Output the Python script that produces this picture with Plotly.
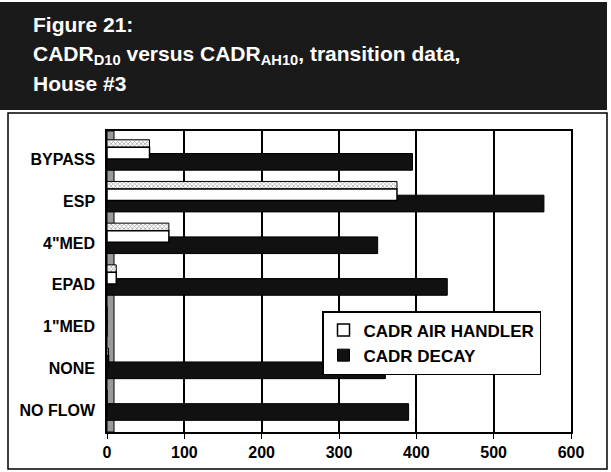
import plotly.graph_objects as go

categories = ["BYPASS", "ESP", "4\"MED", "EPAD", "1\"MED", "NONE", "NO FLOW"]
cadr_air_handler = [55, 375, 80, 12, 0, 2, 0]
cadr_decay = [395, 565, 350, 440, 0, 360, 390]
x_ticks = [0, 100, 200, 300, 400, 500, 600]

W, H = 611, 472
ML, MR, MT, MB = 107, 40, 131, 40
PW, PH = W - ML - MR, H - MT - MB

def px_x(x):
    return (x - ML) / PW

def px_y(y):
    return (H - MB - y) / PH

FONT = "Liberation Sans, Arial, sans-serif"

fig = go.Figure()
fig.add_trace(go.Bar(
    y=categories, x=cadr_decay, orientation="h", name="CADR DECAY",
    offset=-0.15, width=0.40, legendrank=2,
    marker=dict(color="#111111", line=dict(color="black", width=1)),
))
# hatched top strip of the air-handler bars (pseudo 3D face)
fig.add_trace(go.Bar(
    y=categories, x=cadr_air_handler, orientation="h", name="CADR AIR HANDLER",
    offset=-0.48, width=0.18, showlegend=False, hoverinfo="skip",
    marker=dict(color="white", line=dict(color="black", width=1),
                pattern=dict(shape="x", fgcolor="#444444", bgcolor="white",
                             size=3, solidity=0.45)),
))
fig.add_trace(go.Bar(
    y=categories, x=cadr_air_handler, orientation="h", name="CADR AIR HANDLER",
    offset=-0.30, width=0.28, legendrank=1,
    marker=dict(color="white", line=dict(color="black", width=1.5)),
))

fig.update_layout(
    width=W, height=H,
    margin=dict(l=ML, r=MR, t=MT, b=MB, autoexpand=False),
    paper_bgcolor="white", plot_bgcolor="white",
    barmode="overlay",
    font=dict(family=FONT, color="black"),
    showlegend=True,
    legend=dict(
        x=px_x(322), y=px_y(311), xanchor="left", yanchor="top",
        bgcolor="white", bordercolor="black", borderwidth=1.5,
        font=dict(family=FONT, size=17, color="black", weight="bold"),
        traceorder="normal", itemwidth=30, tracegroupgap=0,
        entrywidth=205, entrywidthmode="pixels",
    ),
    xaxis=dict(
        range=[0, 600], tickvals=x_ticks, ticktext=[str(v) for v in x_ticks],
        showgrid=True, gridcolor="black", gridwidth=1.5,
        showline=True, linecolor="black", linewidth=1.5, mirror=True,
        ticks="outside", ticklen=5, tickcolor="black",
        tickfont=dict(family=FONT, size=16, color="black", weight="bold"),
        zeroline=False, fixedrange=True, automargin=False,
    ),
    yaxis=dict(
        categoryorder="array", categoryarray=categories, range=[6.53, -0.69],
        showline=True, linecolor="black", linewidth=1.5, mirror=True,
        ticks="", ticklabelstandoff=7,
        tickfont=dict(family=FONT, size=16, color="black", weight="bold"),
        fixedrange=True, automargin=False,
    ),
    shapes=[
        dict(type="rect", xref="paper", yref="paper",
             x0=px_x(0), x1=px_x(607), y0=px_y(110), y1=px_y(2),
             fillcolor="#1a1a1a", line=dict(width=0), layer="below"),
        dict(type="rect", xref="paper", yref="paper",
             x0=px_x(8), x1=px_x(607), y0=px_y(469), y1=px_y(113),
             fillcolor="rgba(0,0,0,0)", line=dict(color="black", width=1.5)),
        dict(type="rect", xref="paper", yref="paper",
             x0=0, x1=px_x(114), y0=0, y1=1,
             fillcolor="#9a9a9a", line=dict(color="black", width=1), layer="below"),
    ],
)

title_lines = [
    ("Figure 21:", 25),
    ("CADR<sub>D10</sub> versus CADR<sub>AH10</sub>, transition data,", 55),
    ("House #3", 83),
]
for text, yc in title_lines:
    fig.add_annotation(
        text=text, xref="paper", yref="paper",
        x=px_x(31), y=px_y(yc), xanchor="left", yanchor="middle",
        showarrow=False, align="left",
        font=dict(family=FONT, size=21, color="white", weight="bold"),
    )

fig.write_html(
    "out.html",
    config={"displayModeBar": False},
    post_script="document.body.style.margin='0';document.body.style.overflow='hidden';",
)
